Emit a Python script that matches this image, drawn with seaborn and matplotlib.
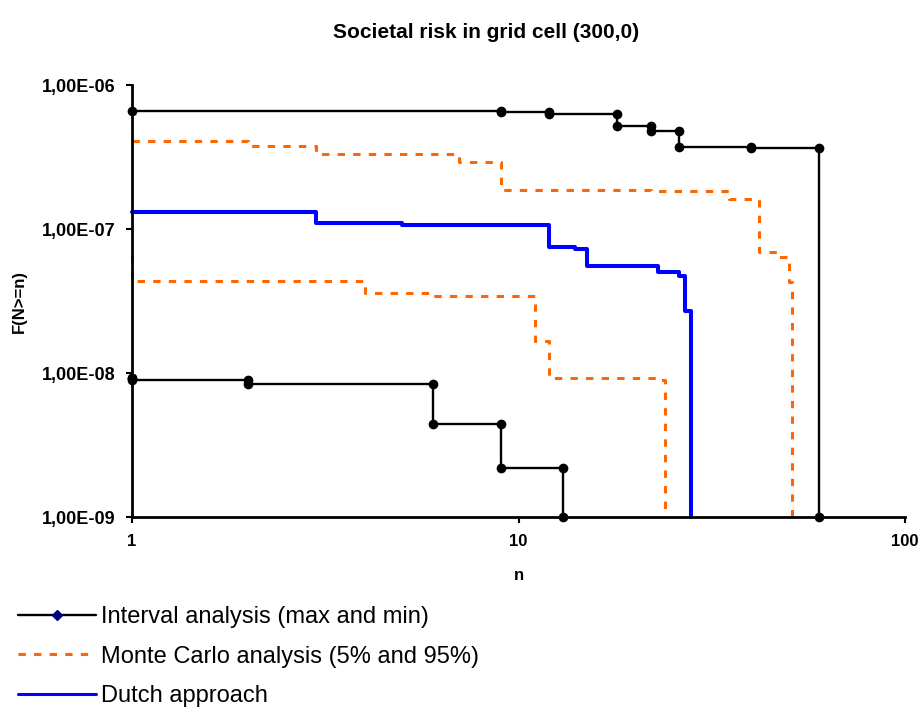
import numpy as np
import matplotlib
matplotlib.use("Agg")
import matplotlib.pyplot as plt
import matplotlib.ticker as mticker
from matplotlib.lines import Line2D
import seaborn as sns

# step data: F holds from N[i] up to N[i+1]
int_max_n = [1, 9, 12, 18, 22, 26, 40, 60]
int_max_f = [6.6e-7, 6.47e-7, 6.33e-7, 5.21e-7, 4.82e-7, 3.70e-7, 3.68e-7, 1e-9]

int_min_n = [1, 1, 2, 6, 9, 13]
int_min_f = [9.2e-9, 8.95e-9, 8.4e-9, 4.43e-9, 2.18e-9, 1e-9]

mc95_n = [1, 2, 3, 7, 9, 22, 35, 42, 47, 50, 51]
mc95_f = [4.08e-7, 3.75e-7, 3.30e-7, 2.92e-7, 1.87e-7, 1.83e-7, 1.62e-7, 6.95e-8, 6.42e-8, 4.26e-8, 1e-9]

mc5_n = [1, 1, 4, 6, 11, 12, 23, 24]
mc5_f = [6.6e-8, 4.35e-8, 3.58e-8, 3.41e-8, 1.68e-8, 9.2e-9, 8.9e-9, 1e-9]

dutch_n = [1, 3, 5, 12, 14, 15, 23, 26, 27, 28]
dutch_f = [1.31e-7, 1.10e-7, 1.06e-7, 7.55e-8, 7.3e-8, 5.53e-8, 5.0e-8, 4.74e-8, 2.70e-8, 1e-9]

labels = ["Interval analysis (max and min)", "Monte Carlo analysis (5% and 95%)", "Dutch approach"]


def corners(n, f):
    # turn step data into the corner points of the staircase
    xs = np.repeat(np.asarray(n, float), 2)[1:]
    ys = np.repeat(np.asarray(f, float), 2)[:-1]
    return xs, ys


sns.set_style("ticks")
plt.rcParams['font.family'] = ['Liberation Sans', 'DejaVu Sans']
plt.rcParams['text.color'] = 'black'
plt.rcParams['axes.labelcolor'] = 'black'
plt.rcParams['xtick.color'] = 'black'
plt.rcParams['ytick.color'] = 'black'

fig = plt.figure(figsize=(9.2, 7.09), dpi=100)
ax = fig.add_axes([0.1435, 0.2708, 0.8402, 0.6093])

orange = "#FF6600"
for n, f in [(mc95_n, mc95_f), (mc5_n, mc5_f)]:
    xs, ys = corners(n, f)
    sns.lineplot(x=xs, y=ys, sort=False, estimator=None, ax=ax, color=orange,
                 lw=2.2, dashes=False, clip_on=False)
    ax.lines[-1].set_dashes((2.4, 2.7))

xs, ys = corners(dutch_n, dutch_f)
sns.lineplot(x=xs, y=ys, sort=False, estimator=None, ax=ax, color="#0000FF", lw=2.9, clip_on=False)

for n, f in [(int_max_n, int_max_f), (int_min_n, int_min_f)]:
    xs, ys = corners(n, f)
    sns.lineplot(x=xs, y=ys, sort=False, estimator=None, ax=ax, color="black", lw=1.7,
                 marker="o", markersize=7, markeredgewidth=0, clip_on=False)

ax.set_xscale("log")
ax.set_yscale("log")
ax.set_xlim(1, 100)
ax.set_ylim(1e-9, 1e-6)
ax.xaxis.set_major_locator(mticker.FixedLocator([1, 10, 100]))
ax.xaxis.set_major_formatter(mticker.FixedFormatter(["1", "10", "100"]))
ax.yaxis.set_major_locator(mticker.FixedLocator([1e-9, 1e-8, 1e-7, 1e-6]))
ax.yaxis.set_major_formatter(mticker.FuncFormatter(lambda v, p: f"{v:.2E}".replace(".", ",")))
ax.xaxis.set_minor_locator(mticker.NullLocator())
ax.yaxis.set_minor_locator(mticker.NullLocator())

sns.despine(ax=ax)
for s in ["left", "bottom"]:
    ax.spines[s].set_linewidth(2.0)
    ax.spines[s].set_color("black")
ax.tick_params(direction="out", length=4, width=1.5, color="black", pad=8, labelsize=12)
ax.tick_params(axis="y", labelsize=13)
for t in ax.get_xticklabels() + ax.get_yticklabels():
    t.set_fontweight("bold")

ax.set_xlabel("n", fontsize=12, fontweight="bold", labelpad=14)
ax.set_ylabel("F(N>=n)", fontsize=12, fontweight="bold", labelpad=11)
fig.suptitle("Societal risk in grid cell (300,0)", x=0.528, y=0.968, fontsize=15, fontweight="bold")

handles = [
    Line2D([0, 0.5, 1], [0, 0, 0], color="black", lw=1.7, marker="D", markersize=5,
           markerfacecolor="#000080", markeredgecolor="#000080", markevery=[1]),
    Line2D([], [], color=orange, lw=2.2, dashes=(2.4, 2.7)),
    Line2D([], [], color="#0000FF", lw=2.2),
]
leg = fig.legend(handles, labels, loc="upper left", bbox_to_anchor=(0.0196, 0.1452), frameon=False,
                 fontsize=17, handlelength=3.3, handletextpad=0.21, labelspacing=0.74, borderpad=0,
                 borderaxespad=0)

fig.savefig("out.png", dpi=100)
